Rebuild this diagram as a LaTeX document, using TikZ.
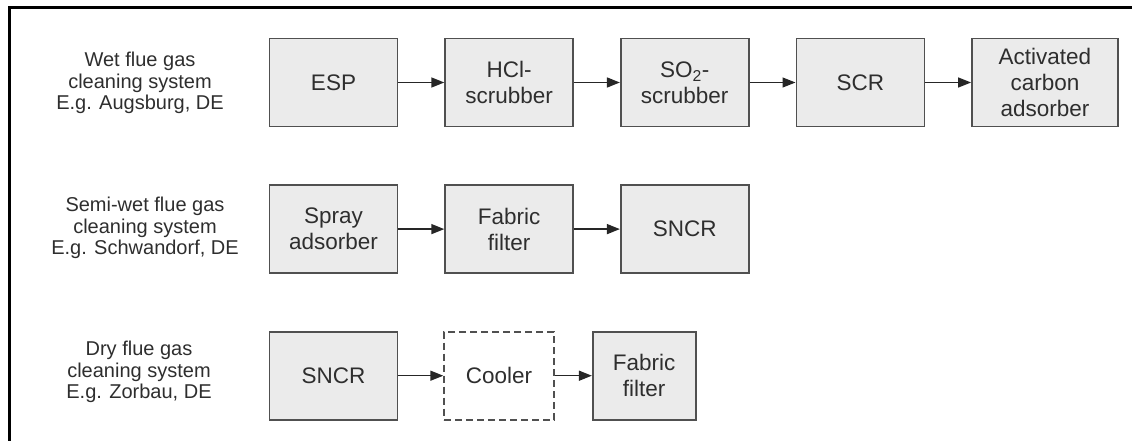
\documentclass[tikz,border=0pt]{standalone}
\usepackage{fontspec}
\setmainfont{Liberation Sans}
\usetikzlibrary{arrows.meta,positioning}
\definecolor{boxgray}{HTML}{EBEBEB}
\definecolor{edgegray}{HTML}{505050}
\definecolor{txtgray}{HTML}{2E2E2E}
\tikzset{
    every picture/.style={
        x=1pt,y=-1pt,node distance=57pt and 46pt,
        >={Triangle[length=13pt,width=10pt]}
    },
    unit/.style={draw=edgegray,line width=1.6pt,fill=boxgray,minimum width=128pt,
        minimum height=88pt,inner sep=2pt,align=center,text=txtgray,
        font=\fontsize{22.5}{26}\selectfont},
    optional/.style={unit,fill=white,dash pattern=on 7pt off 4pt},
    system/.style={align=center,text=txtgray,font=\fontsize{20}{21.5}\selectfont},
    flow/.style={->,line width=1.4pt,draw=black!85}
}

\begin{document}
\begin{tikzpicture}
    \useasboundingbox (0,0) rectangle (1132,441);
    \draw[line width=3pt] (1140,8) -- (9,8) -- (9,450);

    % wet system
    \node[system]            (wet)    at (140,83) {Wet flue gas\\cleaning system\\E.g. Augsburg, DE};
    \node[unit]              (esp)    at (333.5,82.5) {ESP};
    \node[unit]              (hcl)    [right=of esp] {HCl-\\scrubber};
    \node[unit]              (so2)    [right=of hcl] {SO\textsubscript{2}-\\scrubber};
    \node[unit]              (scr)    [right=of so2] {SCR};
    \node[unit,minimum width=146pt] (carbon) [right=of scr] {Activated\\carbon\\adsorber};

    % semi-wet system
    \node[system]            (semi)   at (145,228) {Semi-wet flue gas\\cleaning system\\E.g. Schwandorf, DE};
    \node[unit]              (spray)  [below=of esp] {Spray\\adsorber};
    \node[unit]              (fabric) [right=of spray] {Fabric\\filter};
    \node[unit]              (sncr)   [right=of fabric] {SNCR};

    % dry system
    \node[system]            (dry)    at (139,372) {Dry flue gas\\cleaning system\\E.g. Zorbau, DE};
    \node[unit]              (sncrdry)   [below=of spray] {SNCR};
    \node[optional,minimum width=110pt] (cooler) [right=45pt of sncrdry] {Cooler};
    \node[unit,minimum width=103pt]     (fabricdry) [right=37pt of cooler] {Fabric\\filter};

    \draw[flow] (esp) -- (hcl);
    \draw[flow] (hcl) -- (so2);
    \draw[flow] (so2) -- (scr);
    \draw[flow] (scr) -- (carbon);
    \draw[flow] (spray) -- (fabric);
    \draw[flow] (fabric) -- (sncr);
    \draw[flow] (sncrdry) -- (cooler);
    \draw[flow] (cooler) -- (fabricdry);
\end{tikzpicture}
\end{document}
